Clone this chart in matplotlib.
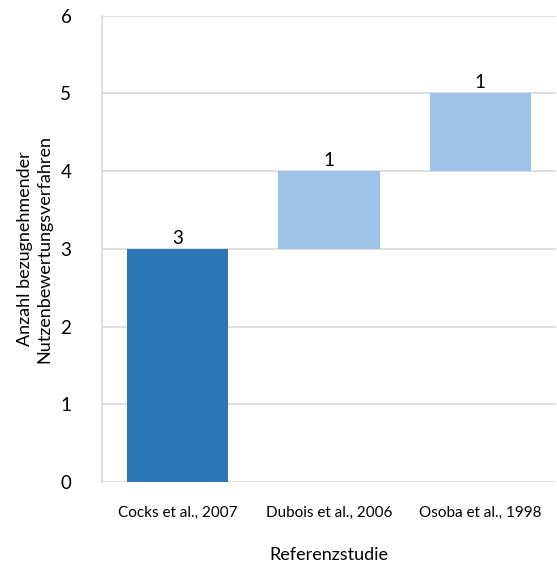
import matplotlib
matplotlib.use("Agg")
import matplotlib.pyplot as plt

# Referenzstudien und Anzahl bezugnehmender Verfahren (Wasserfall)
studien = ["Cocks et al., 2007", "Dubois et al., 2006", "Osoba et al., 1998"]
anzahl = [3, 1, 1]
farben = ["#2E75B6", "#9DC3E6", "#9DC3E6"]

plt.rcParams["font.family"] = ["Lato", "DejaVu Sans"]

fig = plt.figure(figsize=(5.57, 5.63), dpi=100)
ax = fig.add_axes([0.183, 0.144, 0.815, 0.828])

basis = []
summe = 0
for i, n in enumerate(anzahl):
    start = 0 if i == 0 else summe
    basis.append(start)
    summe = start + n

x = list(range(len(studien)))
ax.bar(x, anzahl, bottom=basis, width=0.67, color=farben, zorder=3)
for xi, b, n in zip(x, basis, anzahl):
    ax.text(xi, b + n + 0.03, str(n), ha="center", va="bottom", fontsize=13.5, color="black")

ax.set_xlim(-0.5, 2.5)
ax.set_ylim(0, 6)
ax.set_yticks(range(0, 7))
ax.set_xticks(x)
ax.set_xticklabels(studien, fontsize=11)
ax.tick_params(axis="y", labelsize=13.5, length=0, pad=22)
ax.tick_params(axis="x", length=0, pad=17)
ax.grid(axis="y", color="#D9D9D9", linewidth=1.2, zorder=0)
for s in ["top", "right", "bottom"]:
    ax.spines[s].set_visible(False)
ax.spines["left"].set_color("#D9D9D9")
ax.spines["left"].set_linewidth(1.2)

ax.set_ylabel("Anzahl bezugnehmender\nNutzenbewertungsverfahren", fontsize=13, labelpad=6)
ax.set_xlabel("Referenzstudie", fontsize=13, labelpad=20)

fig.savefig("out.png", dpi=100)
